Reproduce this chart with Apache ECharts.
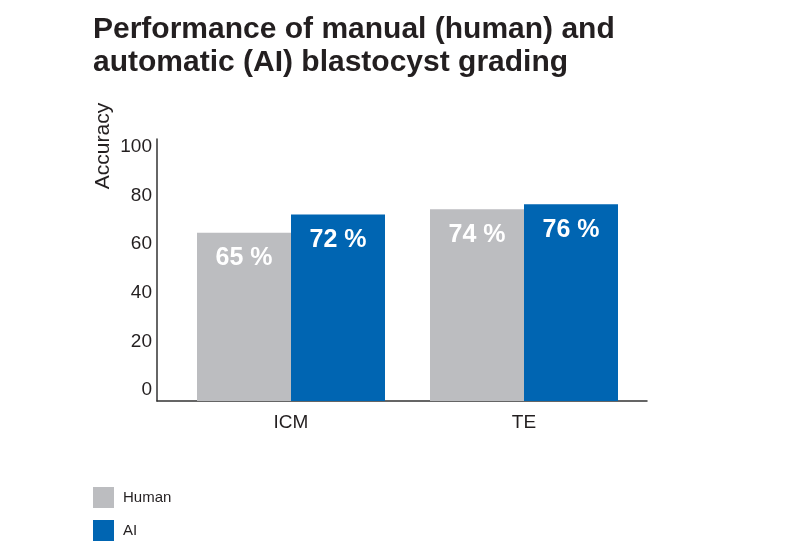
<!DOCTYPE html>
<html>
<head>
<meta charset="utf-8">
<script src="https://cdn.jsdelivr.net/npm/echarts@6/dist/echarts.min.js"></script>
<style>
html,body{margin:0;padding:0;background:#fff;}
#chart{width:800px;height:550px;}
</style>
</head>
<body>
<div id="chart"></div>
<script>
var titleText = 'Performance of manual (human) and\nautomatic (AI) blastocyst grading';
var categories = ['ICM', 'TE'];
var humanValues = [65, 74];
var aiValues = [72, 76];
var seriesNames = ['Human', 'AI'];
var yTickValues = [0, 20, 40, 60, 80, 100];
var yAxisTitle = 'Accuracy';

var FONT = '"Liberation Sans", Arial, Helvetica, sans-serif';
var TEXT = '#231f20';
var GRAY = '#bcbdc0';
var BLUE = '#0065b2';

var chart = echarts.init(document.getElementById('chart'), null, {renderer: 'canvas'});

function barLabel() {
  return {
    show: true,
    position: 'insideTop',
    distance: 13,
    color: '#ffffff',
    fontFamily: FONT,
    fontSize: 25,
    fontWeight: 'bold',
    formatter: function (p) { return p.value + ' %'; }
  };
}

function legendFor(name, top) {
  return {
    orient: 'vertical',
    left: 93,
    top: top,
    padding: 0,
    itemWidth: 21,
    itemHeight: 21,
    icon: 'rect',
    data: [name],
    textStyle: {
      fontFamily: FONT,
      fontSize: 15,
      color: TEXT,
      padding: [0, 0, 0, 4]
    }
  };
}

var option = {
  backgroundColor: '#ffffff',
  animation: false,
  title: {
    text: titleText,
    left: 93,
    top: 13,
    padding: 0,
    textStyle: {
      fontFamily: FONT,
      fontSize: 30,
      fontWeight: 'bold',
      lineHeight: 33,
      color: TEXT
    }
  },
  legend: [legendFor(seriesNames[0], 487), legendFor(seriesNames[1], 520)],
  graphic: [{
    type: 'text',
    x: 103,
    y: 146,
    rotation: Math.PI / 2,
    style: {
      text: yAxisTitle,
      fontFamily: FONT,
      fontSize: 21,
      fill: TEXT,
      align: 'center',
      verticalAlign: 'middle'
    }
  }],
  grid: [
    {left: 157, right: 153, top: 139, bottom: 149},
    {left: 174.5, right: 159.5, top: 142, bottom: 149}
  ],
  xAxis: [
    {
      type: 'value', gridIndex: 0, min: 0, max: 1,
      axisLine: {show: true, onZero: false, lineStyle: {color: '#333333', width: 1.5}},
      axisTick: {show: false}, axisLabel: {show: false}, splitLine: {show: false}
    },
    {
      type: 'category', gridIndex: 1, data: categories,
      axisLine: {show: false}, axisTick: {show: false}, splitLine: {show: false},
      axisLabel: {
        margin: 12,
        fontFamily: FONT, fontSize: 19, color: TEXT
      }
    }
  ],
  yAxis: [
    {
      type: 'value', gridIndex: 0, min: -4.53, max: 103.3,
      axisLine: {show: true, onZero: false, lineStyle: {color: '#333333', width: 1.5}},
      axisTick: {show: false}, splitLine: {show: false},
      axisLabel: {
        customValues: yTickValues,
        margin: 5,
        fontFamily: FONT, fontSize: 19, color: TEXT
      }
    },
    {
      type: 'value', gridIndex: 1, min: 0, max: 100, show: false,
      splitLine: {show: false}
    }
  ],
  series: [
    {
      name: seriesNames[0], type: 'bar', xAxisIndex: 1, yAxisIndex: 1,
      data: humanValues, barWidth: 94, barGap: '0%',
      itemStyle: {color: GRAY},
      label: barLabel()
    },
    {
      name: seriesNames[1], type: 'bar', xAxisIndex: 1, yAxisIndex: 1,
      data: aiValues, barWidth: 94, barGap: '0%',
      itemStyle: {color: BLUE},
      label: barLabel()
    }
  ]
};
chart.setOption(option);
</script>
</body>
</html>
